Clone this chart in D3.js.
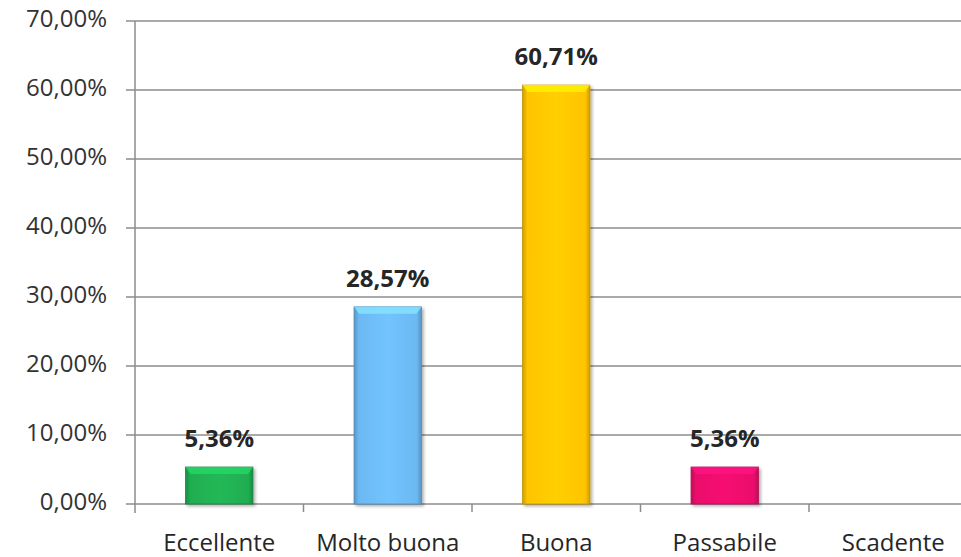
<!DOCTYPE html>
<html><head><meta charset="utf-8">
<script src="https://cdn.jsdelivr.net/npm/d3@7"></script>
<style>body{margin:0;background:#fff}svg{display:block}</style>
</head><body>
<script>
const categories = ["Eccellente","Molto buona","Buona","Passabile","Scadente"];
const values = [5.36, 28.57, 60.71, 5.36, 0];
const labels = ["5,36%","28,57%","60,71%","5,36%",""];
const colors = ["#1fae52","#6cb9f2","#ffc400","#ea0f6b","#888888"];
const yTicks = [0,10,20,30,40,50,60,70];

(function(){
const W=961,H=557;
const mLeft=135, mBottom=504, mTop=21, band=168.5;
const svg=d3.select("body").append("svg").attr("width",W).attr("height",H);
const x=d3.scaleBand().domain(categories).range([mLeft,mLeft+band*5]).paddingInner(0.6).paddingOuter(0.3);
const y=d3.scaleLinear().domain([0,70]).range([mBottom,mTop]);
const fmt=v=>v.toFixed(2).replace(".",",")+"%";

const defs=svg.append("defs");
colors.forEach((c,i)=>{
  const g=defs.append("linearGradient").attr("id","g"+i).attr("x1",0).attr("x2",1).attr("y1",0).attr("y2",0);
  const dk=d3.color(c).darker(0.6), lt=d3.color(c).brighter(0.15);
  g.append("stop").attr("offset","0%").attr("stop-color",dk);
  g.append("stop").attr("offset","7%").attr("stop-color",c);
  g.append("stop").attr("offset","50%").attr("stop-color",lt);
  g.append("stop").attr("offset","93%").attr("stop-color",c);
  g.append("stop").attr("offset","100%").attr("stop-color",dk);
});
const f=defs.append("filter").attr("id","sh").attr("x","-20%").attr("y","-20%").attr("width","150%").attr("height","150%");
f.append("feDropShadow").attr("dx",2).attr("dy",2).attr("stdDeviation",1.5).attr("flood-color","#000").attr("flood-opacity",0.3);

svg.append("g").selectAll("line").data(yTicks).join("line")
  .attr("x1",mLeft-9).attr("x2",W).attr("y1",d=>y(d)).attr("y2",d=>y(d))
  .attr("stroke","#8c8c8c").attr("stroke-width",1.5);
svg.append("line").attr("x1",mLeft).attr("x2",mLeft).attr("y1",mTop).attr("y2",mBottom+9)
  .attr("stroke","#8c8c8c").attr("stroke-width",1.5);
svg.append("g").selectAll("line").data(d3.range(1,5)).join("line")
  .attr("x1",i=>mLeft+band*i).attr("x2",i=>mLeft+band*i).attr("y1",mBottom).attr("y2",mBottom+8)
  .attr("stroke","#8c8c8c").attr("stroke-width",1.5);
svg.append("g").selectAll("text").data(yTicks).join("text")
  .attr("x",107).attr("y",d=>y(d)-2).attr("dy","0.35em").attr("text-anchor","end")
  .attr("font-family","Open Sans, sans-serif").attr("font-size",24).attr("fill","#333")
  .text(fmt);
const bg=svg.append("g");
categories.forEach((c,i)=>{
  if(values[i]<=0) return;
  const bx=x(c), bw=x.bandwidth(), by=y(values[i]), bh=mBottom-by;
  const g=bg.append("g");
  g.append("rect").attr("x",bx).attr("y",by).attr("width",bw).attr("height",bh)
    .attr("fill",`url(#g${i})`).attr("stroke",d3.color(colors[i]).darker(0.8)).attr("stroke-width",0.8).attr("filter","url(#sh)");
  const bev=Math.min(7,bh/3);
  g.append("path").attr("d",`M${bx},${by}L${bx+bw},${by}L${bx+bw-5},${by+bev}L${bx+5},${by+bev}Z`)
    .attr("fill",d3.color(colors[i]).brighter(0.6)).attr("opacity",0.8);
});
svg.append("g").selectAll("text").data(categories.map((c,i)=>({c,v:values[i],l:labels[i]}))).join("text")
  .attr("x",d=>x(d.c)+x.bandwidth()/2).attr("y",d=>y(d.v)-20).attr("text-anchor","middle")
  .attr("font-family","Open Sans, sans-serif").attr("font-weight","bold").attr("font-size",24)
  .attr("fill","#262626").text(d=>d.l);
svg.append("g").selectAll("text").data(categories).join("text")
  .attr("x",d=>x(d)+x.bandwidth()/2).attr("y",551).attr("text-anchor","middle")
  .attr("font-family","Open Sans, sans-serif").attr("font-size",24).attr("fill","#262626")
  .text(d=>d);
})();
</script>
</body></html>
